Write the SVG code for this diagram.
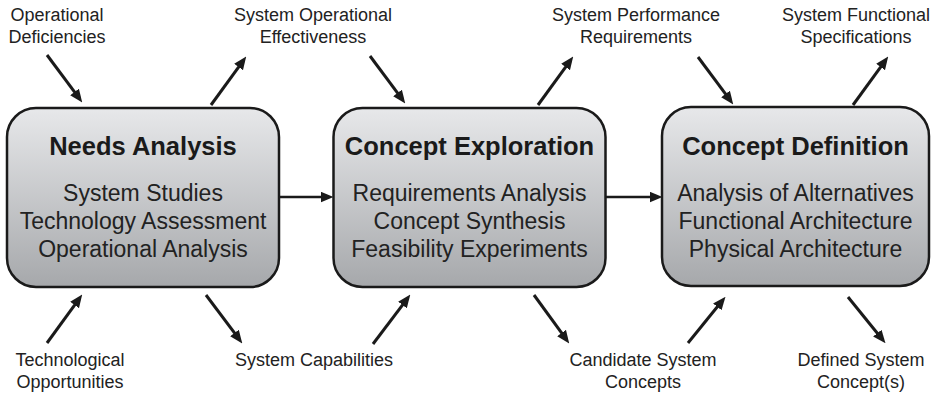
<svg xmlns="http://www.w3.org/2000/svg" width="939" height="396" viewBox="0 0 939 396">
<defs>
<linearGradient id="boxGrad" x1="0" y1="0" x2="0" y2="1">
<stop offset="0" stop-color="#e7e8ea"/>
<stop offset="1" stop-color="#a6a8ab"/>
</linearGradient>
<marker id="ah" viewBox="0 0 12 10" refX="6" refY="5" markerWidth="13" markerHeight="11" markerUnits="userSpaceOnUse" orient="auto">
<path d="M0,0 L12,5 L0,10 z" fill="#1a1a1a"/>
</marker>
<style>
.box{fill:url(#boxGrad);stroke:#1a1a1a;stroke-width:2.5}
.title{font-family:"Liberation Sans",Arial,sans-serif;font-weight:bold;font-size:25.5px;fill:#1a1a1a;text-anchor:middle}
.sub{font-family:"Liberation Sans",Arial,sans-serif;font-size:23px;fill:#222;text-anchor:middle}
.lbl{font-family:"Liberation Sans",Arial,sans-serif;font-size:18px;fill:#222;text-anchor:middle}
.arr{stroke:#1a1a1a;stroke-width:3;fill:none;marker-end:url(#ah)}
.harr{stroke:#1a1a1a;stroke-width:2.5;fill:none;marker-end:url(#ah)}
</style>
</defs>
<g id="connectors">
<line class="arr" x1="47" y1="55" x2="78.4" y2="97.2"/>
<line class="arr" x1="211" y1="105" x2="242.4" y2="61.8"/>
<line class="arr" x1="370" y1="56" x2="401.4" y2="98.2"/>
<line class="arr" x1="538" y1="105" x2="569.4" y2="61.8"/>
<line class="arr" x1="698" y1="57" x2="729.4" y2="99.2"/>
<line class="arr" x1="853" y1="105" x2="884.4" y2="61.8"/>
<line class="arr" x1="47" y1="343" x2="78.4" y2="299.8"/>
<line class="arr" x1="206" y1="295" x2="238.4" y2="338.2"/>
<line class="arr" x1="373" y1="344" x2="406.4" y2="299.8"/>
<line class="arr" x1="534" y1="295" x2="565.4" y2="338.2"/>
<line class="arr" x1="688" y1="343" x2="721.4" y2="301.8"/>
<line class="arr" x1="848" y1="297" x2="881.4" y2="338.2"/>
<line class="harr" x1="279" y1="197" x2="327" y2="197"/>
<line class="harr" x1="606" y1="197" x2="656" y2="197"/>
</g>
<g id="needs-analysis">
<rect class="box" x="7" y="108" width="272" height="179" rx="29" ry="29"/>
<text class="title" x="143" y="155">Needs Analysis</text>
<text class="sub" x="143" y="201">System Studies</text>
<text class="sub" x="143" y="229">Technology Assessment</text>
<text class="sub" x="143" y="257">Operational Analysis</text>
</g>
<g id="concept-exploration">
<rect class="box" x="333.5" y="108" width="272" height="179" rx="29" ry="29"/>
<text class="title" x="469.5" y="155">Concept Exploration</text>
<text class="sub" x="469.5" y="201">Requirements Analysis</text>
<text class="sub" x="469.5" y="229">Concept Synthesis</text>
<text class="sub" x="469.5" y="257">Feasibility Experiments</text>
</g>
<g id="concept-definition">
<rect class="box" x="662" y="107" width="267" height="179" rx="29" ry="29"/>
<text class="title" x="795.5" y="155">Concept Definition</text>
<text class="sub" x="795.5" y="201">Analysis of Alternatives</text>
<text class="sub" x="795.5" y="229">Functional Architecture</text>
<text class="sub" x="795.5" y="257">Physical Architecture</text>
</g>
<g id="lbl-operational-deficiencies"><text class="lbl" x="57" y="21">Operational</text><text class="lbl" x="57" y="43">Deficiencies</text></g>
<g id="lbl-system-operational-effectiveness"><text class="lbl" x="313" y="21">System Operational</text><text class="lbl" x="313" y="43">Effectiveness</text></g>
<g id="lbl-system-performance-requirements"><text class="lbl" x="636" y="21">System Performance</text><text class="lbl" x="636" y="43">Requirements</text></g>
<g id="lbl-system-functional-specifications"><text class="lbl" x="856" y="21">System Functional</text><text class="lbl" x="856" y="43">Specifications</text></g>
<g id="lbl-technological-opportunities"><text class="lbl" x="70" y="366">Technological</text><text class="lbl" x="70" y="388">Opportunities</text></g>
<g id="lbl-system-capabilities"><text class="lbl" x="314" y="366">System Capabilities</text></g>
<g id="lbl-candidate-system-concepts"><text class="lbl" x="643" y="366">Candidate System</text><text class="lbl" x="643" y="388">Concepts</text></g>
<g id="lbl-defined-system-concepts"><text class="lbl" x="861" y="366">Defined System</text><text class="lbl" x="861" y="388">Concept(s)</text></g>
</svg>
